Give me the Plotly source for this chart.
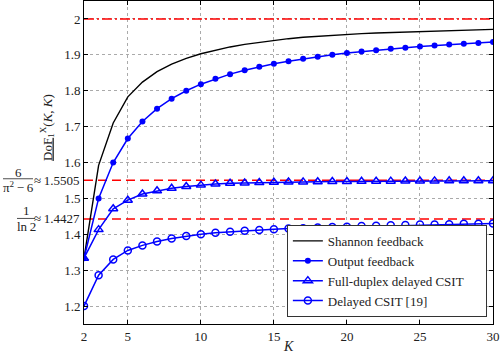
import plotly.graph_objects as go

K = [2, 3, 4, 5, 6, 7, 8, 9, 10, 11, 12, 13, 14, 15, 16, 17, 18, 19, 20,
     21, 22, 23, 24, 25, 26, 27, 28, 29, 30]

shannon = [1.3333, 1.592, 1.710, 1.783, 1.824, 1.853, 1.874, 1.890, 1.903, 1.913,
           1.922, 1.929, 1.935, 1.941, 1.945, 1.949, 1.952, 1.955, 1.957, 1.959,
           1.961, 1.962, 1.963, 1.964, 1.966, 1.967, 1.968, 1.970, 1.971]

output_fb = [1.3333, 1.5, 1.6, 1.6667, 1.7143, 1.75, 1.7778, 1.8, 1.8182, 1.8333,
             1.8462, 1.8571, 1.8667, 1.875, 1.8824, 1.8889, 1.8947, 1.9, 1.9048, 1.9091,
             1.9130, 1.9167, 1.92, 1.9231, 1.9259, 1.9286, 1.9310, 1.9333, 1.9355]

full_duplex = [1.3333, 1.413, 1.471, 1.495, 1.512, 1.521, 1.528, 1.533, 1.537, 1.540,
               1.542, 1.543, 1.544, 1.545, 1.5455, 1.546, 1.5465, 1.547, 1.5472, 1.5475,
               1.5478, 1.548, 1.5483, 1.5485, 1.5487, 1.5489, 1.549, 1.5492, 1.5494]

delayed = [1.2, 1.286, 1.330, 1.355, 1.369, 1.380, 1.388, 1.395, 1.400, 1.404,
           1.407, 1.410, 1.412, 1.414, 1.416, 1.417, 1.419, 1.420, 1.421, 1.423,
           1.424, 1.425, 1.426, 1.427, 1.427, 1.428, 1.429, 1.429, 1.430]

ref_levels = [2.0, 1.5505, 1.4427]
ref_dashes = ["10px,3px,2px,3px", "9px,5px", "9px,5px"]

y_ticks = [1.2, 1.3, 1.4, 1.5, 1.6, 1.7, 1.8, 1.9, 2.0]
y_ticktext = ["1.2", "1.3", "1.4", "1.5", "1.6", "1.7", "1.8", "1.9", "2"]
x_ticks = [2, 5, 10, 15, 20, 25, 30]

FONT = "'Liberation Serif', 'Times New Roman', 'DejaVu Serif', serif"
BLUE = "#0000ff"
NB = "\u00a0"

fig = go.Figure()

fig.add_trace(go.Scatter(x=K, y=shannon, mode="lines", name="Shannon feedback",
                         line=dict(color="black", width=1.4)))
fig.add_trace(go.Scatter(x=K, y=output_fb, mode="lines+markers", name="Output feedback",
                         line=dict(color=BLUE, width=1.5),
                         marker=dict(symbol="circle", size=6, color=BLUE)))
fig.add_trace(go.Scatter(x=K, y=full_duplex, mode="lines+markers",
                         name="Full-duplex delayed CSIT" + NB * 5,
                         line=dict(color=BLUE, width=1.5),
                         marker=dict(symbol="triangle-up-open", size=8, color=BLUE,
                                     line=dict(width=1.5, color=BLUE))))
fig.add_trace(go.Scatter(x=K, y=delayed, mode="lines+markers", name="Delayed CSIT [19]",
                         line=dict(color=BLUE, width=1.5),
                         marker=dict(symbol="circle-open", size=7, color=BLUE,
                                     line=dict(width=1.5, color=BLUE))))

for lvl, dsh in zip(ref_levels, ref_dashes):
    fig.add_shape(type="line", xref="x", yref="y", x0=K[0], x1=K[-1], y0=lvl, y1=lvl,
                  line=dict(color="red", width=1.5, dash=dsh), layer="between")

# special tick labels (fractions)
ann_font = dict(family=FONT, size=13, color="#222")
anns = [
    dict(text="6", y=ref_levels[1], xshift=-66, yshift=8, xanchor="center"),
    dict(text="π<sup>2</sup>\u2009−\u20096", y=ref_levels[1], xshift=-66, yshift=-7, xanchor="center"),
    dict(text="≈\u20091.5505", y=ref_levels[1], xshift=-3, yshift=0, xanchor="right"),
    dict(text="1", y=ref_levels[2], xshift=-58, yshift=8, xanchor="center"),
    dict(text="ln\u20092", y=ref_levels[2], xshift=-58, yshift=-8, xanchor="center"),
    dict(text="≈\u20091.4427", y=ref_levels[2], xshift=-3, yshift=0, xanchor="right"),
]
for a in anns:
    fig.add_annotation(xref="paper", x=0, yref="y", showarrow=False, yanchor="middle",
                       font=ann_font, borderpad=0, **a)

fig.add_shape(type="line", xref="paper", xsizemode="pixel", xanchor=0, x0=-81, x1=-51,
              yref="y", ysizemode="pixel", yanchor=ref_levels[1], y0=1.5, y1=1.5,
              line=dict(color="#222", width=0.8))
fig.add_shape(type="line", xref="paper", xsizemode="pixel", xanchor=0, x0=-67, x1=-49,
              yref="y", ysizemode="pixel", yanchor=ref_levels[2], y0=0.5, y1=0.5,
              line=dict(color="#222", width=0.8))

# axis titles
fig.add_annotation(xref="paper", x=0, xshift=-37, yref="paper", y=0.607,
                   text="<u>DoF</u><sub>1</sub><sup>X</sup>(<i>K</i>, <i>K</i>)",
                   textangle=-90, showarrow=False, font=ann_font,
                   xanchor="center", yanchor="middle")
fig.add_annotation(xref="paper", x=0.5, yref="paper", y=0, yshift=-22,
                   text="<i>K</i>", showarrow=False, font=dict(family=FONT, size=14, color="#222"),
                   xanchor="center", yanchor="middle")

fig.update_layout(
    width=500, height=353,
    margin=dict(l=84, r=7, t=1, b=29),
    paper_bgcolor="white", plot_bgcolor="white",
    font=dict(family=FONT, size=13, color="#222"),
    showlegend=True,
    legend=dict(x=0.985, y=0.022, xanchor="right", yanchor="bottom",
                bgcolor="white", bordercolor="#333", borderwidth=1,
                font=dict(family=FONT, size=13, color="#222"),
                itemwidth=30, tracegroupgap=0),
    xaxis=dict(range=[2, 30], tickvals=x_ticks, ticks="inside", ticklen=4,
               tickcolor="black", showline=True, linecolor="black", linewidth=1,
               mirror="ticks", showgrid=True, gridcolor="#aaaaaa", griddash="dot",
               gridwidth=1, zeroline=False),
    yaxis=dict(range=[1.15, 2.05], tickvals=y_ticks, ticktext=y_ticktext,
               ticks="inside", ticklen=4, tickcolor="black", showline=True,
               linecolor="black", linewidth=1, mirror="ticks", showgrid=True,
               gridcolor="#aaaaaa", griddash="dot", gridwidth=1, zeroline=False),
)

fig.write_html("out.html", config={"displayModeBar": False},
               post_script="document.body.style.margin='0';document.body.style.padding='0';")
